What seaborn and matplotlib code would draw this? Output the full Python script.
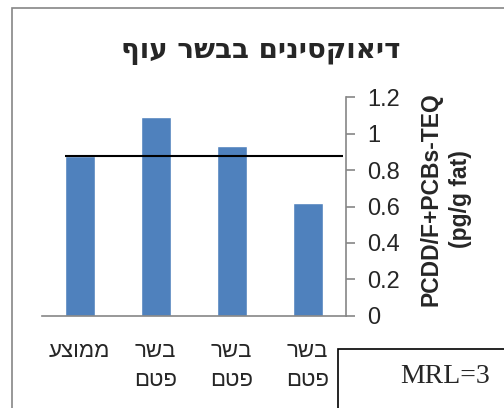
import matplotlib
matplotlib.use("Agg")
import matplotlib.pyplot as plt
import seaborn as sns
import pandas as pd
from matplotlib.patches import Rectangle

# Chart content
title = "דיאוקסינים בבשר עוף"
categories = ["ממוצע", "בשר פטם", "בשר פטם", "בשר פטם"]   # left to right as drawn
values = [0.88, 1.09, 0.93, 0.62]
mean_level = 0.88
y_ticks = [0, 0.2, 0.4, 0.6, 0.8, 1.0, 1.2]
y_label = "PCDD/F+PCBs-TEQ\n(pg/g fat)"
note = "MRL=3"


def rtl_lines(text):
    """Visual order for Hebrew text, one word per line."""
    return "\n".join(word[::-1] for word in text.split(" "))


sns.set_theme(style="white")
plt.rcParams["font.family"] = ["Liberation Sans", "DejaVu Sans"]

df = pd.DataFrame({"slot": [f"c{i}" for i in range(len(values))], "value": values})

W, H = 504, 408
fig = plt.figure(figsize=(W / 100, H / 100), dpi=100)
ax = fig.add_axes([41.7 / W, 1 - 315.7 / H, (345.7 - 41.7) / W, (315.7 - 97.3) / H])

sns.barplot(data=df, x="slot", y="value", color="#4F81BD", saturation=1,
            width=0.39, ax=ax, zorder=2)
ax.hlines(mean_level, -0.2, 3.47, color="black", lw=1.5, zorder=3)

ax.set_xlim(-0.5, 3.5)
ax.set_ylim(0, 1.2)

grey = "#868686"
for side in ("left", "top"):
    ax.spines[side].set_visible(False)
for side in ("right", "bottom"):
    ax.spines[side].set_color(grey)
    ax.spines[side].set_linewidth(1.2)

ax.yaxis.tick_right()
ax.set_yticks(y_ticks, labels=[f"{v:g}" for v in y_ticks])
ax.tick_params(axis="y", direction="out", length=6.5, width=1.2, color=grey,
               labelsize=17, pad=9, right=True, left=False)
ax.set_xticks(range(len(categories)), labels=[rtl_lines(c) for c in categories])
ax.tick_params(axis="x", length=0, labelsize=16, pad=18)
for lab in ax.get_xticklabels():
    lab.set_verticalalignment("top")
    lab.set_linespacing(1.55)
ax.set_xlabel("")
ax.set_ylabel("")

fig.text(446 / W, 1 - 199 / H, y_label, rotation=90, ha="center", va="center",
         multialignment="center", fontsize=16.5, fontweight="bold",
         linespacing=1.35)
fig.text(261 / W, 1 - 51 / H, title[::-1], ha="center", va="center",
         fontsize=20, fontweight="bold", family=["DejaVu Sans"])

# chart frame
fig.patches.append(Rectangle((12 / W, -0.1), 1.1, (H - 8) / H + 0.1,
                             transform=fig.transFigure, fill=False,
                             edgecolor=grey, lw=1.2))
# note box
fig.patches.append(Rectangle((338 / W, -0.1), 1.0, (H - 349) / H + 0.1,
                             transform=fig.transFigure, fill=False,
                             edgecolor="black", lw=1.2))
fig.text(445 / W, 1 - 383 / H, note, ha="center", va="baseline",
         fontsize=20, family=["Liberation Serif", "DejaVu Serif"])

fig.savefig("out.png", dpi=100)
